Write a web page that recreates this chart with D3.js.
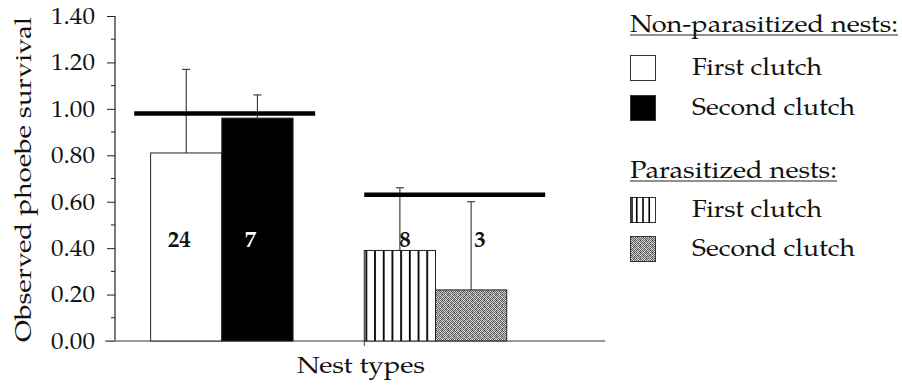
<!DOCTYPE html>
<html>
<head>
<meta charset="utf-8">
<script src="https://cdn.jsdelivr.net/npm/d3@7"></script>
<style>
  html, body { margin: 0; padding: 0; background: #fff; }
  svg { display: block; }
</style>
</head>
<body>
<svg id="chart" width="902" height="385"></svg>
<script>
// Observed phoebe survival by nest type
const nestTypes   = ["Non-parasitized first clutch", "Non-parasitized second clutch",
                     "Parasitized first clutch", "Parasitized second clutch"];
const survival    = [0.81, 0.96, 0.39, 0.22];
const errorTop    = [1.17, 1.06, 0.66, 0.60];
const sampleSizes = ["24", "7", "8", "3"];
const groupNames  = ["Non-parasitized nests:", "Parasitized nests:"];
const groupMeans  = [0.98, 0.63];
const clutchNames = ["First clutch", "Second clutch"];
const yTicks      = [0, 0.2, 0.4, 0.6, 0.8, 1.0, 1.2, 1.4];

const FONT = "'TeX Gyre Pagella', 'Palatino Linotype', Palatino, 'Liberation Serif', serif";
const svg = d3.select("#chart");

// Patterns for the parasitized bars
const defs = svg.append("defs");
const stripe = defs.append("pattern")
  .attr("id", "stripes").attr("patternUnits", "userSpaceOnUse")
  .attr("width", 8.7).attr("height", 10).attr("x", 0);
stripe.append("rect").attr("width", 8.7).attr("height", 10).attr("fill", "#fff");
stripe.append("rect").attr("x", 0).attr("width", 1.8).attr("height", 10).attr("fill", "#000");

const stipple = defs.append("pattern")
  .attr("id", "stipple").attr("patternUnits", "userSpaceOnUse")
  .attr("width", 6).attr("height", 6);
const stippleShades = [
  "#555","#ddd","#666","#bbb","#444","#ccc",
  "#ccc","#777","#eee","#555","#aaa","#666",
  "#666","#bbb","#555","#ddd","#777","#ccc",
  "#ddd","#444","#aaa","#777","#eee","#555",
  "#777","#ccc","#666","#ccc","#444","#bbb",
  "#bbb","#666","#ddd","#555","#aaa","#888"];
stippleShades.forEach((c, i) => {
  stipple.append("rect").attr("x", i % 6).attr("y", Math.floor(i / 6))
    .attr("width", 1).attr("height", 1).attr("fill", c);
});

// Scales: x runs in bar-width units along the axis
const x = d3.scaleLinear().domain([0, 6.88]).range([115, 605]);
const y = d3.scaleLinear().domain([0, 1.4]).range([341, 16]);
const barStart = [0.5, 1.5, 3.5, 4.5];
const barFill = ["#fff", "#000", "url(#stripes)", "url(#stipple)"];

// Y axis with minor ticks
const yAxis = d3.axisLeft(y).tickValues(yTicks).tickSize(8).tickPadding(12)
  .tickFormat(d3.format(".2f"));
const gy = svg.append("g").attr("transform", `translate(${x(0)},0)`).call(yAxis);
gy.attr("font-family", null);
gy.select(".domain").attr("stroke", "#222").attr("stroke-width", 1.2).attr("d", `M0,${y(1.4)}V${y(0)}`);
gy.selectAll(".tick line").attr("stroke", "#222");
gy.selectAll(".tick text").attr("font-size", 23).attr("fill", "#111")
  .attr("textLength", 44).attr("lengthAdjust", "spacingAndGlyphs")
  .style("font-family", FONT);
const minor = d3.range(0.1, 1.4, 0.2);
gy.selectAll(".minor").data(minor).join("line").attr("class", "minor")
  .attr("x1", -4).attr("x2", 0).attr("y1", d => y(d)).attr("y2", d => y(d))
  .attr("stroke", "#222");

// X axis baseline
svg.append("line").attr("x1", x(0) - 10).attr("x2", x(6.88))
  .attr("y1", y(0)).attr("y2", y(0)).attr("stroke", "#777").attr("stroke-width", 1.6);
svg.append("line").attr("x1", x(3.5)).attr("x2", x(3.5))
  .attr("y1", y(0)).attr("y2", y(0) + 5).attr("stroke", "#444");

// Bars
svg.selectAll(".bar").data(survival).join("rect").attr("class", "bar")
  .attr("x", (d, i) => x(barStart[i]))
  .attr("width", (d, i) => x(barStart[i] + 1) - x(barStart[i]))
  .attr("y", d => y(d))
  .attr("height", d => y(0) - y(d))
  .attr("fill", (d, i) => barFill[i])
  .attr("stroke", "#222").attr("stroke-width", 1);

// Error bars (upper only)
const errG = svg.append("g").attr("stroke", "#333").attr("stroke-width", 1.1);
errorTop.forEach((e, i) => {
  const cx = x(barStart[i] + 0.5);
  errG.append("line").attr("x1", cx).attr("x2", cx).attr("y1", y(survival[i])).attr("y2", y(e));
  errG.append("line").attr("x1", cx - 4).attr("x2", cx + 4).attr("y1", y(e)).attr("y2", y(e));
});

// Group survival reference lines
const meanSpan = [[0.27, 2.81], [3.5, 6.04]];
groupMeans.forEach((m, i) => {
  svg.append("line")
    .attr("x1", x(meanSpan[i][0])).attr("x2", x(meanSpan[i][1]))
    .attr("y1", y(m)).attr("y2", y(m))
    .attr("stroke", "#000").attr("stroke-width", 4.5);
});

// Sample sizes
const labelShift = [-7, -7, 5, 9];
svg.selectAll(".n").data(sampleSizes).join("text").attr("class", "n")
  .attr("x", (d, i) => x(barStart[i] + 0.5) + labelShift[i])
  .attr("y", y(0.405))
  .attr("text-anchor", "middle")
  .attr("font-size", 23).attr("font-weight", "bold")
  .attr("fill", (d, i) => i === 1 ? "#fff" : "#111")
  .style("font-family", FONT)
  .text(d => d);

// Axis titles
svg.append("text")
  .attr("transform", `translate(31,${y(0.7) + 1}) rotate(-90)`)
  .attr("text-anchor", "middle").attr("font-size", 23).attr("fill", "#111")
  .style("font-family", FONT)
  .attr("textLength", 325).attr("lengthAdjust", "spacingAndGlyphs")
  .text("Observed phoebe survival");
svg.append("text")
  .attr("x", 361).attr("y", 373).attr("text-anchor", "middle")
  .attr("font-size", 23).attr("fill", "#111")
  .style("font-family", FONT)
  .attr("textLength", 128).attr("lengthAdjust", "spacingAndGlyphs")
  .text("Nest types");

// Legend
const leg = svg.append("g");
const headerY = [32, 178];
const itemY = [[55, 95], [197, 236]];
const legFill = [["#fff", "#000"], ["stripes", "url(#stipple)"]];
const headerLen = [268, 207];
groupNames.forEach((g, gi) => {
  leg.append("text").attr("x", 630).attr("y", headerY[gi])
    .attr("font-size", 24).attr("fill", "#111")
    .style("font-family", FONT)
    .attr("textLength", headerLen[gi]).attr("lengthAdjust", "spacingAndGlyphs")
    .text(g);
  leg.append("line").attr("x1", 630).attr("x2", 630 + headerLen[gi])
    .attr("y1", headerY[gi] + 3).attr("y2", headerY[gi] + 3)
    .attr("stroke", "#222").attr("stroke-width", 1.2);
  clutchNames.forEach((c, ci) => {
    const by = itemY[gi][ci];
    const f = legFill[gi][ci];
    leg.append("rect").attr("x", 630.5).attr("y", by + 0.5).attr("width", 25).attr("height", 25)
      .attr("fill", f === "stripes" ? "#fff" : f).attr("stroke", "#333").attr("stroke-width", 1);
    if (f === "stripes") {
      [1, 2, 3].forEach(k => {
        leg.append("line").attr("x1", 630.5 + k * 6.25).attr("x2", 630.5 + k * 6.25)
          .attr("y1", by).attr("y2", by + 26).attr("stroke", "#000").attr("stroke-width", 1.6);
      });
      leg.append("line").attr("x1", 632).attr("x2", 632).attr("y1", by).attr("y2", by + 26)
        .attr("stroke", "#000").attr("stroke-width", 1.5);
    }
    leg.append("text").attr("x", 692).attr("y", by + 20)
      .attr("font-size", 24).attr("fill", "#111")
      .style("font-family", FONT)
      .attr("textLength", ci === 0 ? 130 : 163).attr("lengthAdjust", "spacingAndGlyphs")
      .text(c);
  });
});
</script>
</body>
</html>
